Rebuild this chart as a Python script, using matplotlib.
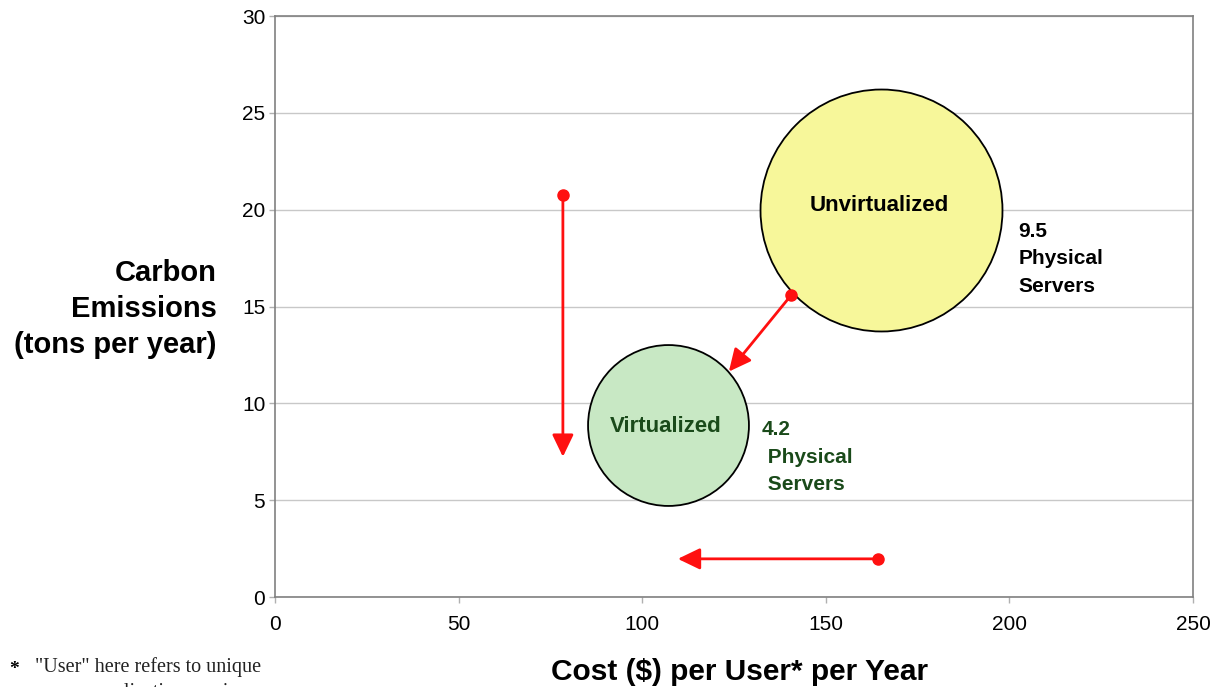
import matplotlib
matplotlib.use("Agg")
import matplotlib.pyplot as plt

# ---- data ----
bubble_names = ["Unvirtualized", "Virtualized"]
bubble_cost = [165.0, 106.9]
bubble_emissions = [20.0, 8.9]
bubble_servers = [9.5, 4.2]
bubble_colors = ["#f7f79a", "#c8e8c4"]
bubble_text_colors = ["#000000", "#1a4a1a"]

# arrows: (x_start, y_start, x_end, y_end)
arrow_x_start = [78.4, 140.5, 164.2]
arrow_y_start = [20.74, 15.57, 1.97]
arrow_x_end = [78.4, 123.6, 109.7]
arrow_y_end = [7.24, 11.64, 1.97]

x_ticks = [0, 50, 100, 150, 200, 250]
y_ticks = [0, 5, 10, 15, 20, 25, 30]

plt.rcParams['font.family'] = ['Liberation Sans', 'DejaVu Sans']

fig = plt.figure(figsize=(12.2, 6.87), dpi=100)
ax = fig.add_axes([0.2254, 0.131, 0.7525, 0.8457])
ax.set_xlim(0, 250)
ax.set_ylim(0, 30)
ax.set_xticks(x_ticks)
ax.set_yticks(y_ticks)
ax.tick_params(labelsize=15, length=4, color="#b0b0b0", width=1)
ax.tick_params(axis="x", pad=9)
ax.tick_params(axis="y", pad=3)
for s in ax.spines.values():
    s.set_color("#808080")
    s.set_linewidth(1.2)
ax.yaxis.grid(True, color="#c8c8c8", linewidth=1)
ax.set_axisbelow(True)

# bubbles (area proportional to server count)
size_scale = 3195
for i in range(len(bubble_names)):
    ax.scatter(bubble_cost[i], bubble_emissions[i], s=bubble_servers[i] * size_scale,
               color=bubble_colors[i], edgecolor="black", linewidth=1.3, zorder=3)

# bubble labels
ax.annotate(bubble_names[0], (bubble_cost[0], bubble_emissions[0]), xytext=(-1, 3),
            textcoords="offset points", ha="center", va="center", fontsize=16,
            fontweight="bold", color=bubble_text_colors[0], zorder=5)
ax.annotate(bubble_names[1], (bubble_cost[1], bubble_emissions[1]), xytext=(-1, -1),
            textcoords="offset points", ha="center", va="center", fontsize=16,
            fontweight="bold", color=bubble_text_colors[1], zorder=5)

ax.annotate(f"{bubble_servers[0]}\nPhysical\nServers", (bubble_cost[0], bubble_emissions[0]),
            xytext=(99, -9), textcoords="offset points", ha="left", va="top",
            fontsize=15, fontweight="bold", color=bubble_text_colors[0],
            linespacing=1.55, zorder=5)
ax.annotate(f"{bubble_servers[1]}\n Physical\n Servers", (bubble_cost[1], bubble_emissions[1]),
            xytext=(68, 3), textcoords="offset points", ha="left", va="top",
            fontsize=15, fontweight="bold", color=bubble_text_colors[1],
            linespacing=1.55, zorder=5)

# arrows
for xs, ys, xe, ye in zip(arrow_x_start, arrow_y_start, arrow_x_end, arrow_y_end):
    ax.annotate("", xy=(xe, ye), xytext=(xs, ys),
                arrowprops=dict(arrowstyle="-|>,head_length=1.35,head_width=0.65",
                                color="#ff1010", lw=2, shrinkA=0, shrinkB=0),
                zorder=6)
    ax.plot(xs, ys, "o", color="#ff1010", markersize=8, zorder=7)

# axis labels
fig.text(217 / 1220, 1 - 309 / 687, "Carbon\nEmissions\n(tons per year)", ha="right",
         va="center", fontsize=21, fontweight="bold", linespacing=1.38)
fig.text(740 / 1220, 1 - 672 / 687, "Cost ($) per User* per Year", ha="center",
         va="center", fontsize=21.5, fontweight="bold")

# footnote (second line is cut off by the bottom edge, as in the original)
serif = ["Liberation Serif", "DejaVu Serif"]
fig.text(9 / 1220, 1 - 670 / 687, "*", ha="left", va="center", fontsize=14,
         family=serif, fontweight="bold")
fig.text(35 / 1220, 1 - 667 / 687, "\"User\" here refers to unique",
         ha="left", va="center", fontsize=14.5, family=serif, color="#222222")
fig.text(95 / 1220, 1 - 692 / 687, "application services",
         ha="left", va="center", fontsize=14.5, family=serif, color="#222222")

fig.savefig("out.png", dpi=100)
